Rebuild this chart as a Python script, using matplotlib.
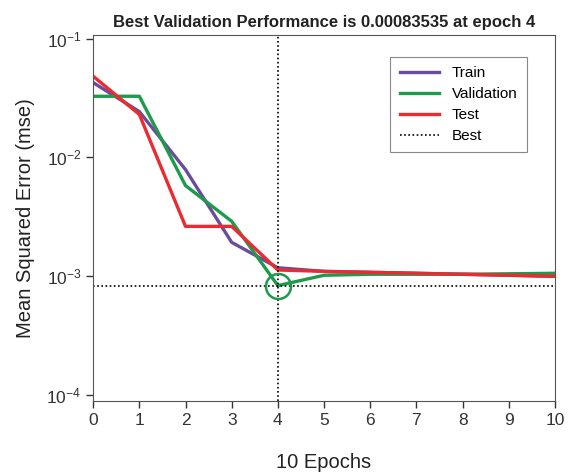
import numpy as np
import matplotlib
matplotlib.use("Agg")
import matplotlib.pyplot as plt
from matplotlib.ticker import NullLocator, FixedLocator

plt.rcParams['font.family'] = ['Liberation Sans', 'DejaVu Sans']

# Data
epochs = [0, 1, 2, 3, 4, 5, 6, 7, 8, 9, 10]
train = [0.0426, 0.0243, 0.0079, 0.00193, 0.00118, 0.00110, 0.00108, 0.00106, 0.00104, 0.00102, 0.00100]
validation = [0.0327, 0.0327, 0.0058, 0.0029, 0.00083535, 0.00102, 0.00104, 0.00104, 0.00104, 0.00105, 0.00106]
test = [0.0482, 0.0230, 0.00263, 0.00263, 0.00113, 0.00110, 0.00108, 0.00106, 0.00104, 0.00102, 0.00100]
best_epoch = 4
best_perf = 0.00083535

fig = plt.figure(figsize=(5.68, 4.73), dpi=100)
ax = fig.add_axes([0.164, 0.152, 0.813, 0.774])

ax.plot(epochs, train, color='#6b4c9a', lw=2.4, label='Train')
ax.plot(epochs, validation, color='#1e9a4b', lw=2.4, label='Validation')
ax.plot(epochs, test, color='#ec2a32', lw=2.4, label='Test')
ax.axhline(best_perf, color='black', lw=1.2, ls=(0, (1, 1.5)), label='Best')
ax.axvline(best_epoch, color='black', lw=1.2, ls=(0, (1, 1.5)))
ax.plot([best_epoch], [best_perf], 'o', mfc='none', mec='#1e9a4b', mew=1.8, ms=18)

ax.set_yscale('log')
ax.set_xlim(0, 10)
ax.set_ylim(10 ** -4.05, 10 ** -0.97)
ax.set_xticks(epochs)
ax.yaxis.set_major_locator(FixedLocator([1e-4, 1e-3, 1e-2, 1e-1]))
ax.yaxis.set_minor_locator(NullLocator())
ax.tick_params(labelsize=12.5, colors='#333333', direction='out', length=5, width=1)
for s in ax.spines.values():
    s.set_color('#555555')

ax.set_title('Best Validation Performance is 0.00083535 at epoch 4',
             fontsize=12, fontweight='bold', color='#222222', pad=6)
ax.set_ylabel('Mean Squared Error (mse)', fontsize=14.5, color='#222222', labelpad=8)
ax.set_xlabel('10 Epochs', fontsize=14.5, color='#222222', labelpad=18)

leg = ax.legend(loc='upper right', bbox_to_anchor=(0.955, 0.96), fontsize=11,
                fancybox=False, edgecolor='#888888', framealpha=1,
                handlelength=2.6, borderpad=0.6, labelspacing=0.45)
leg.get_frame().set_linewidth(0.8)

fig.savefig('out.png', dpi=100)
